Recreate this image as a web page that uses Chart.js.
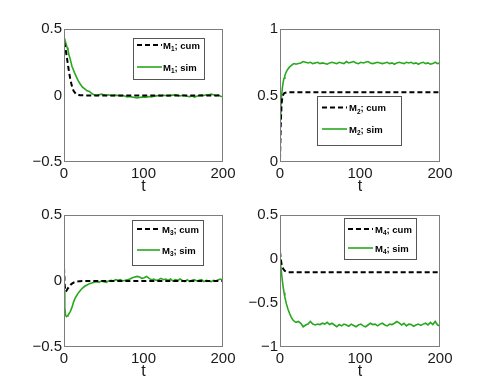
<!DOCTYPE html>
<html><head><meta charset="utf-8">
<script src="https://cdn.jsdelivr.net/npm/chart.js@4"></script>
<style>
html,body{margin:0;padding:0;background:#fff;}
body{width:491px;height:391px;position:relative;overflow:hidden;}
canvas{position:absolute;}
</style></head><body>
<canvas id="c1" width="245" height="195" style="left:0;top:0;width:245px;height:195px"></canvas>
<canvas id="c2" width="246" height="195" style="left:245px;top:0;width:246px;height:195px"></canvas>
<canvas id="c3" width="245" height="196" style="left:0;top:195px;width:245px;height:196px"></canvas>
<canvas id="c4" width="246" height="196" style="left:245px;top:195px;width:246px;height:196px"></canvas>
<script>
// ---------- data ----------
const tSim = [0,1,2,3,4,5,6,8,10,12,14,16,18,20,23,26,29,32,35,38,41,44,47,50,53,56,59,62,65,68,71,74,77,80,83,86,89,92,95,98,101,104,107,110,113,116,119,122,125,128,131,134,137,140,143,146,149,152,155,158,161,164,167,170,173,176,179,182,185,188,191,194,197,200];
const tCum = [0,1,2,3,4,5,6,8,10,12,15,20,30,200];

const m1Cum = [0.40,0.38,0.35,0.31,0.27,0.23,0.19,0.12,0.07,0.035,0.012,0.002,0,0];
const m2Cum = [0.02,0.30,0.44,0.49,0.505,0.515,0.52,0.523,0.525,0.525,0.525,0.525,0.525,0.525];
const m3Cum = [0.10,-0.04,-0.08,-0.075,-0.065,-0.055,-0.045,-0.03,-0.02,-0.012,-0.005,-0.001,0,0];
const m4Cum = [0.08,0.0,-0.06,-0.09,-0.11,-0.125,-0.135,-0.145,-0.15,-0.15,-0.15,-0.15,-0.15,-0.15];

const m1Sim = [0.43,0.42,0.40,0.38,0.36,0.34,0.31,0.27,0.22,0.19,0.16,0.135,0.11,0.09,
0.065,0.05,0.035,0.03,0.015,0.005,0.0,0.005,0.01,0.005,0.0,0.005,0.0,0.0,0.003,0.0,-0.003,0.0,-0.005,-0.01,-0.008,-0.012,-0.015,-0.018,-0.015,-0.012,-0.01,-0.012,-0.008,-0.01,-0.005,-0.003,0.0,-0.003,0.002,0.0,-0.003,0.0,0.003,0.005,0.0,-0.003,0.002,0.0,-0.005,-0.008,-0.003,-0.012,-0.005,0.0,0.003,0.0,0.005,0.003,0.01,0.005,0.0,0.003,-0.005,-0.01];
const m2Sim = [0.32,0.42,0.50,0.56,0.60,0.63,0.65,0.68,0.70,0.715,0.725,0.735,0.74,0.735,
0.74,0.745,0.755,0.75,0.745,0.75,0.74,0.745,0.75,0.74,0.745,0.74,0.735,0.745,0.75,0.745,0.74,0.75,0.745,0.74,0.755,0.745,0.75,0.755,0.745,0.74,0.75,0.745,0.75,0.755,0.745,0.74,0.745,0.75,0.745,0.74,0.745,0.75,0.74,0.745,0.735,0.745,0.75,0.745,0.74,0.75,0.745,0.75,0.74,0.745,0.735,0.745,0.75,0.74,0.745,0.735,0.74,0.75,0.74,0.745];
const m3Sim = [-0.08,-0.20,-0.26,-0.27,-0.265,-0.26,-0.25,-0.23,-0.20,-0.16,-0.13,-0.11,-0.09,-0.075,
-0.055,-0.04,-0.03,-0.02,-0.015,-0.01,-0.005,-0.01,0.0,-0.005,-0.01,0.0,0.005,0.0,0.01,0.005,0.01,0.0,0.005,0.01,0.015,0.025,0.03,0.035,0.03,0.02,0.025,0.035,0.02,0.01,0.015,0.005,0.01,0.02,0.01,0.015,0.005,0.015,0.0,0.01,0.005,0.015,0.005,-0.005,0.01,-0.005,0.005,0.01,0.0,0.005,0.01,-0.005,0.005,0.0,-0.005,0.005,0.0,0.01,0.015,0.005];
const m4Sim = [0.0,-0.08,-0.17,-0.25,-0.32,-0.38,-0.43,-0.51,-0.57,-0.62,-0.66,-0.69,-0.71,-0.72,
-0.71,-0.73,-0.77,-0.75,-0.74,-0.71,-0.74,-0.75,-0.74,-0.745,-0.73,-0.74,-0.72,-0.745,-0.73,-0.75,-0.77,-0.745,-0.76,-0.74,-0.75,-0.765,-0.74,-0.755,-0.77,-0.75,-0.74,-0.76,-0.77,-0.75,-0.73,-0.745,-0.74,-0.76,-0.74,-0.73,-0.75,-0.76,-0.74,-0.745,-0.73,-0.71,-0.725,-0.75,-0.73,-0.76,-0.74,-0.745,-0.765,-0.75,-0.74,-0.755,-0.74,-0.73,-0.75,-0.72,-0.745,-0.71,-0.75,-0.76];

const xTicks = [0,100,200];
const yRanges = [[-0.5,0.5],[0,1],[-0.5,0.5],[-1,0.5]];
const seriesName = 'M';
const seriesSubs = ['1','2','3','4'];
const seriesSuffix = ['; cum','; sim'];
const xTitle = 't';

// ---------- layout / style ----------
const FONT = "'Liberation Sans', Arial, Helvetica, sans-serif";
const panels = [
  {id:'c1', ox:0, oy:0, cum:m1Cum, sim:m1Sim, yr:yRanges[0], yW:64, pad:{top:29,right:22,left:0,bottom:0},
   leg:{x:133,y:38,w:71,h:41,rows:[45,67],lx1:137,lx2:162,tx:163}},
  {id:'c2', ox:245, oy:0, cum:m2Cum, sim:m2Sim, yr:yRanges[1], yW:35, pad:{top:29,right:51,left:0,bottom:0},
   leg:{x:317,y:96,w:84,h:49,rows:[107.5,129],lx1:322,lx2:347,tx:349}},
  {id:'c3', ox:0, oy:195, cum:m3Cum, sim:m3Sim, yr:yRanges[2], yW:64, pad:{top:20,right:22,left:0,bottom:11},
   leg:{x:132,y:220,w:71,h:45,rows:[229,250],lx1:137,lx2:160,tx:162}},
  {id:'c4', ox:245, oy:195, cum:m4Cum, sim:m4Sim, yr:yRanges[3], yW:35, pad:{top:20,right:51,left:0,bottom:11},
   leg:{x:344,y:218,w:72,h:41,rows:[229,248],lx1:348,lx2:373,tx:375}}
];

const fmt = v => v < 0 ? '\u2212' + String(Math.abs(v)) : String(v);

const boxPlugin = {
  id:'axbox',
  afterDatasetsDraw(chart){
    const {ctx, chartArea:a} = chart;
    ctx.save();
    ctx.strokeStyle = '#7d7d7d';
    ctx.lineWidth = 1;
    ctx.setLineDash([]);
    ctx.strokeRect(Math.round(a.left)+0.5, Math.round(a.top)+0.5, Math.round(a.right-a.left)-1, Math.round(a.bottom-a.top)-1);
    ctx.restore();
  }
};

const legendPlugin = {
  id:'innerLegend',
  afterDraw(chart, args, o){
    if(!o || !o.box) return;
    const {ctx} = chart;
    const L = o.box, ox = o.ox, oy = o.oy;
    ctx.save();
    ctx.fillStyle = '#fff';
    ctx.fillRect(L.x-ox, L.y-oy, L.w, L.h);
    ctx.strokeStyle = '#555';
    ctx.lineWidth = 1;
    ctx.setLineDash([]);
    ctx.strokeRect(Math.round(L.x-ox)+0.5, Math.round(L.y-oy)+0.5, L.w, L.h);
    chart.data.datasets.forEach((ds, i) => {
      const ry = L.rows[i]-oy;
      ctx.strokeStyle = ds.borderColor;
      ctx.lineWidth = ds.borderWidth;
      ctx.setLineDash(ds.borderDash || []);
      ctx.beginPath();
      ctx.moveTo(L.lx1-ox, ry); ctx.lineTo(L.lx2-ox, ry); ctx.stroke();
      ctx.setLineDash([]);
      ctx.fillStyle = '#000';
      ctx.textBaseline = 'alphabetic';
      let x = L.tx-ox; const by = ry + 3.5;
      ctx.font = 'bold 9.5px ' + FONT;
      ctx.fillText(seriesName, x, by); x += ctx.measureText(seriesName).width;
      ctx.font = 'bold 6.5px ' + FONT;
      ctx.fillText(o.sub, x, by+2.5); x += ctx.measureText(o.sub).width;
      ctx.font = 'bold 9.5px ' + FONT;
      ctx.fillText(seriesSuffix[i], x, by);
    });
    ctx.restore();
  }
};

const pts = (t, v) => t.map((x, i) => ({x, y:v[i]}));

panels.forEach((p, k) => {
  new Chart(document.getElementById(p.id), {
    type:'line',
    data:{datasets:[
      {label:seriesName+seriesSubs[k]+seriesSuffix[0], data:pts(tCum,p.cum), borderColor:'#000', borderWidth:2, borderDash:[5,3], pointRadius:0, tension:0, fill:false},
      {label:seriesName+seriesSubs[k]+seriesSuffix[1], data:pts(tSim,p.sim), borderColor:'rgb(40,168,30)', borderWidth:1.6, pointRadius:0, tension:0, fill:false}
    ]},
    options:{
      responsive:false, animation:false, devicePixelRatio:1,
      layout:{padding:p.pad},
      plugins:{legend:{display:false}, tooltip:{enabled:false},
        innerLegend:{box:p.leg, ox:p.ox, oy:p.oy, sub:seriesSubs[k]}},
      scales:{
        x:{type:'linear', min:0, max:200,
           afterBuildTicks(s){ s.ticks = xTicks.map(v=>({value:v})); },
           afterFit(s){ s.height = 33; },
           grid:{display:false, drawTicks:false}, border:{display:false},
           ticks:{padding:3, maxRotation:0, color:'#1a1a1a', font:{family:FONT, size:15}, callback:v=>fmt(v)},
           title:{display:true, text:xTitle, color:'#1a1a1a', font:{family:FONT, size:16, lineHeight:1}, padding:{top:0,bottom:0}}},
        y:{type:'linear', min:p.yr[0], max:p.yr[1],
           ticks:{stepSize:0.5, padding:2, color:'#1a1a1a', font:{family:FONT, size:15}, callback:v=>fmt(v)},
           afterFit(s){ s.width = p.yW; },
           grid:{display:false, drawTicks:false}, border:{display:false}}
      }
    },
    plugins:[boxPlugin, legendPlugin]
  });
});
</script>
</body></html>
